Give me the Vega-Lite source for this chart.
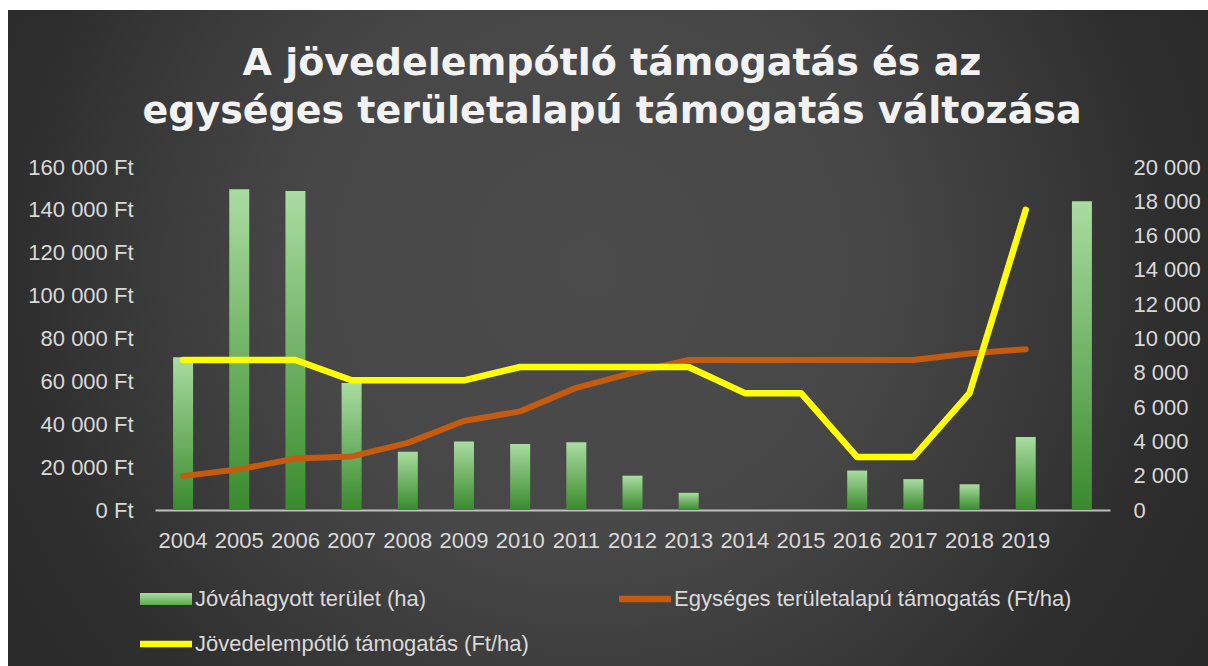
{
  "$schema": "https://vega.github.io/schema/vega-lite/v6.json",
  "width": 1200,
  "height": 656,
  "autosize": {"type": "none"},
  "padding": {"left": 8, "top": 10, "right": 0, "bottom": 0},
  "background": "#ffffff",
  "title": {
    "text": ["A jövedelempótló támogatás és az", "egységes területalapú támogatás változása"],
    "anchor": "middle",
    "frame": "group",
    "font": "DejaVu Sans",
    "fontSize": 38,
    "fontWeight": "bold",
    "color": "#f2f2f2",
    "lineHeight": 48,
    "offset": -121,
    "dx": 4
  },
  "config": {
    "view": {
      "stroke": null,
      "fill": {
        "gradient": "radial",
        "x1": 0.485, "y1": 0.44, "r1": 0,
        "x2": 0.485, "y2": 0.44, "r2": 0.6,
        "stops": [
          {"offset": 0, "color": "#4b4b4b"},
          {"offset": 0.4, "color": "#474747"},
          {"offset": 0.62, "color": "#3a3a3a"},
          {"offset": 0.8, "color": "#2e2e2e"},
          {"offset": 1, "color": "#292929"}
        ]
      }
    },
    "axis": {
      "grid": false,
      "ticks": false,
      "tickSize": 0,
      "domain": false,
      "labelFont": "Liberation Sans",
      "labelFontSize": 22,
      "labelColor": "#d9d9d9",
      "title": null
    }
  },
  "data": {
    "values": [
      {"year": "2004", "area": 8900, "egyseges": 15800, "jovedelem": 70000},
      {"year": "2005", "area": 18700, "egyseges": 19000, "jovedelem": 70000},
      {"year": "2006", "area": 18600, "egyseges": 24000, "jovedelem": 70000},
      {"year": "2007", "area": 7400, "egyseges": 25000, "jovedelem": 60500},
      {"year": "2008", "area": 3400, "egyseges": 31300, "jovedelem": 60500},
      {"year": "2009", "area": 4000, "egyseges": 41500, "jovedelem": 60500},
      {"year": "2010", "area": 3850, "egyseges": 46000, "jovedelem": 66700},
      {"year": "2011", "area": 3950, "egyseges": 57000, "jovedelem": 66700},
      {"year": "2012", "area": 2000, "egyseges": 64000, "jovedelem": 66700},
      {"year": "2013", "area": 1000, "egyseges": 70000, "jovedelem": 66700},
      {"year": "2014", "area": null, "egyseges": 70000, "jovedelem": 54500},
      {"year": "2015", "area": null, "egyseges": 70000, "jovedelem": 54500},
      {"year": "2016", "area": 2300, "egyseges": 70000, "jovedelem": 24700},
      {"year": "2017", "area": 1800, "egyseges": 70000, "jovedelem": 24700},
      {"year": "2018", "area": 1500, "egyseges": 73000, "jovedelem": 54500},
      {"year": "2019", "area": 4250, "egyseges": 75000, "jovedelem": 140000},
      {"year": " ", "area": 18000, "egyseges": null, "jovedelem": null}
    ]
  },
  "encoding": {
    "x": {
      "field": "year",
      "type": "nominal",
      "scale": {
        "domain": ["2004","2005","2006","2007","2008","2009","2010","2011","2012","2013","2014","2015","2016","2017","2018","2019"," "],
        "range": [147, 1102],
        "paddingInner": 0.1,
        "paddingOuter": 0.05
      },
      "axis": {
        "orient": "bottom",
        "offset": -156,
        "labelAngle": 0,
        "domain": true,
        "domainColor": "#bfbfbf",
        "domainWidth": 2,
        "labelPadding": 20,
        "title": null
      }
    }
  },
  "layer": [
    {
      "mark": {
        "type": "bar",
        "width": 20,
        "color": {
          "gradient": "linear",
          "x1": 0, "y1": 0, "x2": 0, "y2": 1,
          "stops": [
            {"offset": 0, "color": "#aadca2"},
            {"offset": 1, "color": "#3a8a2d"}
          ]
        }
      },
      "encoding": {
        "y": {
          "field": "area",
          "type": "quantitative",
          "scale": {"domain": [0, 20000], "range": [500, 157], "nice": false},
          "axis": {
            "orient": "right",
            "offset": -98,
            "values": [0, 2000, 4000, 6000, 8000, 10000, 12000, 14000, 16000, 18000, 20000],
            "labelPadding": 23,
            "labelExpr": "replace(format(datum.value, ','), regexp(',', 'g'), ' ')"
          }
        }
      }
    },
    {
      "layer": [
        {
          "mark": {"type": "line", "strokeWidth": 6, "strokeCap": "round", "strokeJoin": "round"},
          "encoding": {
            "y": {
              "field": "egyseges",
              "type": "quantitative",
              "scale": {"domain": [0, 160000], "range": [500, 157], "nice": false},
              "axis": {
                "orient": "left",
                "offset": -147,
                "values": [0, 20000, 40000, 60000, 80000, 100000, 120000, 140000, 160000],
                "labelPadding": 22,
                "labelExpr": "replace(format(datum.value, ','), regexp(',', 'g'), ' ') + ' Ft'"
              }
            },
            "color": {
              "datum": "Egységes területalapú támogatás (Ft/ha)",
              "scale": {
                "domain": ["Jóváhagyott terület (ha)", "Jövedelempótló támogatás (Ft/ha)", "Egységes területalapú támogatás (Ft/ha)"],
                "range": ["#8ccf82", "#ffff00", "#c55a11"]
              },
              "legend": {
                "orient": "none",
                "legendX": 145,
                "legendY": 576,
                "columns": 2,
                "title": null,
                "padding": 0,
                "symbolSize": 676,
                "labelOffset": 16,
                "columnPadding": 90,
                "rowPadding": 21,
                "labelFont": "Liberation Sans",
                "labelFontSize": 22,
                "labelColor": "#d9d9d9",
                "labelLimit": 600,
                "encode": {
                  "symbols": {
                    "update": {
                      "shape": {"signal": "datum.value === 'Jóváhagyott terület (ha)' ? 'M-2,-0.46H2V0.46H-2Z' : 'M-2,-0.25H2V0.25H-2Z'"},
                      "fill": {"signal": "datum.value === 'Jóváhagyott terület (ha)' ? {gradient: 'linear', x1: 0, y1: 0, x2: 0, y2: 1, stops: [{offset: 0, color: '#aadca2'}, {offset: 1, color: '#5caa4c'}]} : scale('color', datum.value)"},
                      "stroke": {"value": "transparent"},
                      "strokeWidth": {"value": 0},
                      "opacity": {"value": 1},
                      "fillOpacity": {"value": 1}
                    }
                  }
                }
              }
            }
          }
        },
        {
          "mark": {"type": "line", "strokeWidth": 6.5, "strokeCap": "round", "strokeJoin": "round"},
          "encoding": {
            "y": {"field": "jovedelem", "type": "quantitative"},
            "color": {"datum": "Jövedelempótló támogatás (Ft/ha)"}
          }
        }
      ]
    }
  ],
  "resolve": {"scale": {"y": "independent"}}
}
